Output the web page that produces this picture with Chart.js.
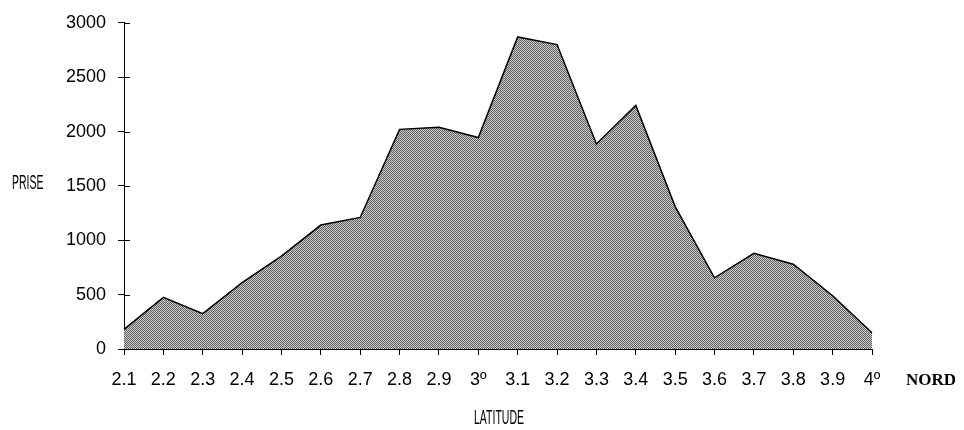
<!DOCTYPE html>
<html>
<head>
<meta charset="utf-8">
<script src="https://cdn.jsdelivr.net/npm/chart.js@4"></script>
<style>
  html, body { margin: 0; padding: 0; background: #fff; overflow: hidden; }
  #chart { display: block; }
</style>
</head>
<body>
<canvas id="chart" width="964" height="430"></canvas>
<script>
// latitude classes (degrees north)
const latitudes = ['2.1', '2.2', '2.3', '2.4', '2.5', '2.6', '2.7', '2.8', '2.9', '3º',
                   '3.1', '3.2', '3.3', '3.4', '3.5', '3.6', '3.7', '3.8', '3.9', '4º'];
// catch per latitude
const prise = [180, 475, 325, 610, 855, 1140, 1210, 2020, 2040, 1945,
               2870, 2800, 1885, 2240, 1310, 655, 880, 780, 490, 150];
const yTicks = [0, 500, 1000, 1500, 2000, 2500, 3000];

// dithered grey fill, like the printed screen
const makePattern = () => {
    const c = document.createElement('canvas');
    c.width = 4; c.height = 4;
    const g = c.getContext('2d');
    g.fillStyle = '#cecece';
    g.fillRect(0, 0, 4, 4);
    g.fillStyle = '#5e5e5e';
    for (let y = 0; y < 4; y++) {
        for (let x = 0; x < 4; x++) {
            if ((x + y) % 2 === 0) g.fillRect(x, y, 1, 1);
        }
    }
    return g.createPattern(c, 'repeat');
};

// extra labels + ticks crossing the y axis
const extras = {
    id: 'extras',
    afterDraw(chart) {
        const ctx = chart.ctx;
        const ys = chart.scales.y;
        const area = chart.chartArea;
        ctx.save();
        ctx.strokeStyle = '#000';
        ctx.lineWidth = 1;
        yTicks.forEach(v => {
            const py = Math.round(ys.getPixelForValue(v)) + 0.5;
            ctx.beginPath();
            ctx.moveTo(area.left, py);
            ctx.lineTo(area.left + 6, py);
            ctx.stroke();
        });

        ctx.fillStyle = '#000';
        ctx.textBaseline = 'middle';
        // condensed captions
        const narrow = (txt, x, y, align) => {
            ctx.save();
            ctx.font = '21px "Liberation Sans", Arial, sans-serif';
            ctx.translate(x, y);
            ctx.scale(0.5, 1);
            ctx.textAlign = align;
            ctx.fillText(txt, 0, 0);
            ctx.restore();
        };
        narrow('PRISE', 12, 183, 'left');
        narrow('LATITUDE', 499, 418, 'center');

        ctx.font = 'bold 17px "Liberation Serif", "Times New Roman", serif';
        ctx.textAlign = 'left';
        ctx.fillText('NORD', 906, 381);
        ctx.restore();
    }
};

const ctx = document.getElementById('chart').getContext('2d');
new Chart(ctx, {
    type: 'line',
    data: {
        labels: latitudes,
        datasets: [{
            data: prise,
            borderColor: '#000',
            borderWidth: 1.5,
            backgroundColor: makePattern(),
            fill: 'origin',
            tension: 0,
            pointRadius: 0
        }]
    },
    options: {
        responsive: false,
        animation: false,
        devicePixelRatio: 1,
        layout: { padding: { top: 19, right: 92, bottom: 0, left: 0 } },
        plugins: { legend: { display: false }, tooltip: { enabled: false } },
        scales: {
            x: {
                offset: false,
                grid: { display: true, drawOnChartArea: false, tickLength: 6, color: '#000' },
                border: { color: '#000', width: 1 },
                ticks: {
                    color: '#000',
                    font: { family: '"Liberation Sans", Arial, sans-serif', size: 18 },
                    padding: 14,
                    maxRotation: 0,
                    autoSkip: false
                },
                afterFit: s => { s.height = 81; }
            },
            y: {
                min: 0,
                max: 3000,
                afterBuildTicks: s => { s.ticks = yTicks.map(v => ({ value: v })); },
                grid: { display: true, drawOnChartArea: false, tickLength: 6, color: '#000' },
                border: { color: '#000', width: 1 },
                ticks: {
                    color: '#000',
                    font: { family: '"Liberation Sans", Arial, sans-serif', size: 18 },
                    padding: 12,
                    callback: v => String(v)
                },
                afterFit: s => { s.width = 124; }
            }
        }
    },
    plugins: [extras]
});
</script>
</body>
</html>
